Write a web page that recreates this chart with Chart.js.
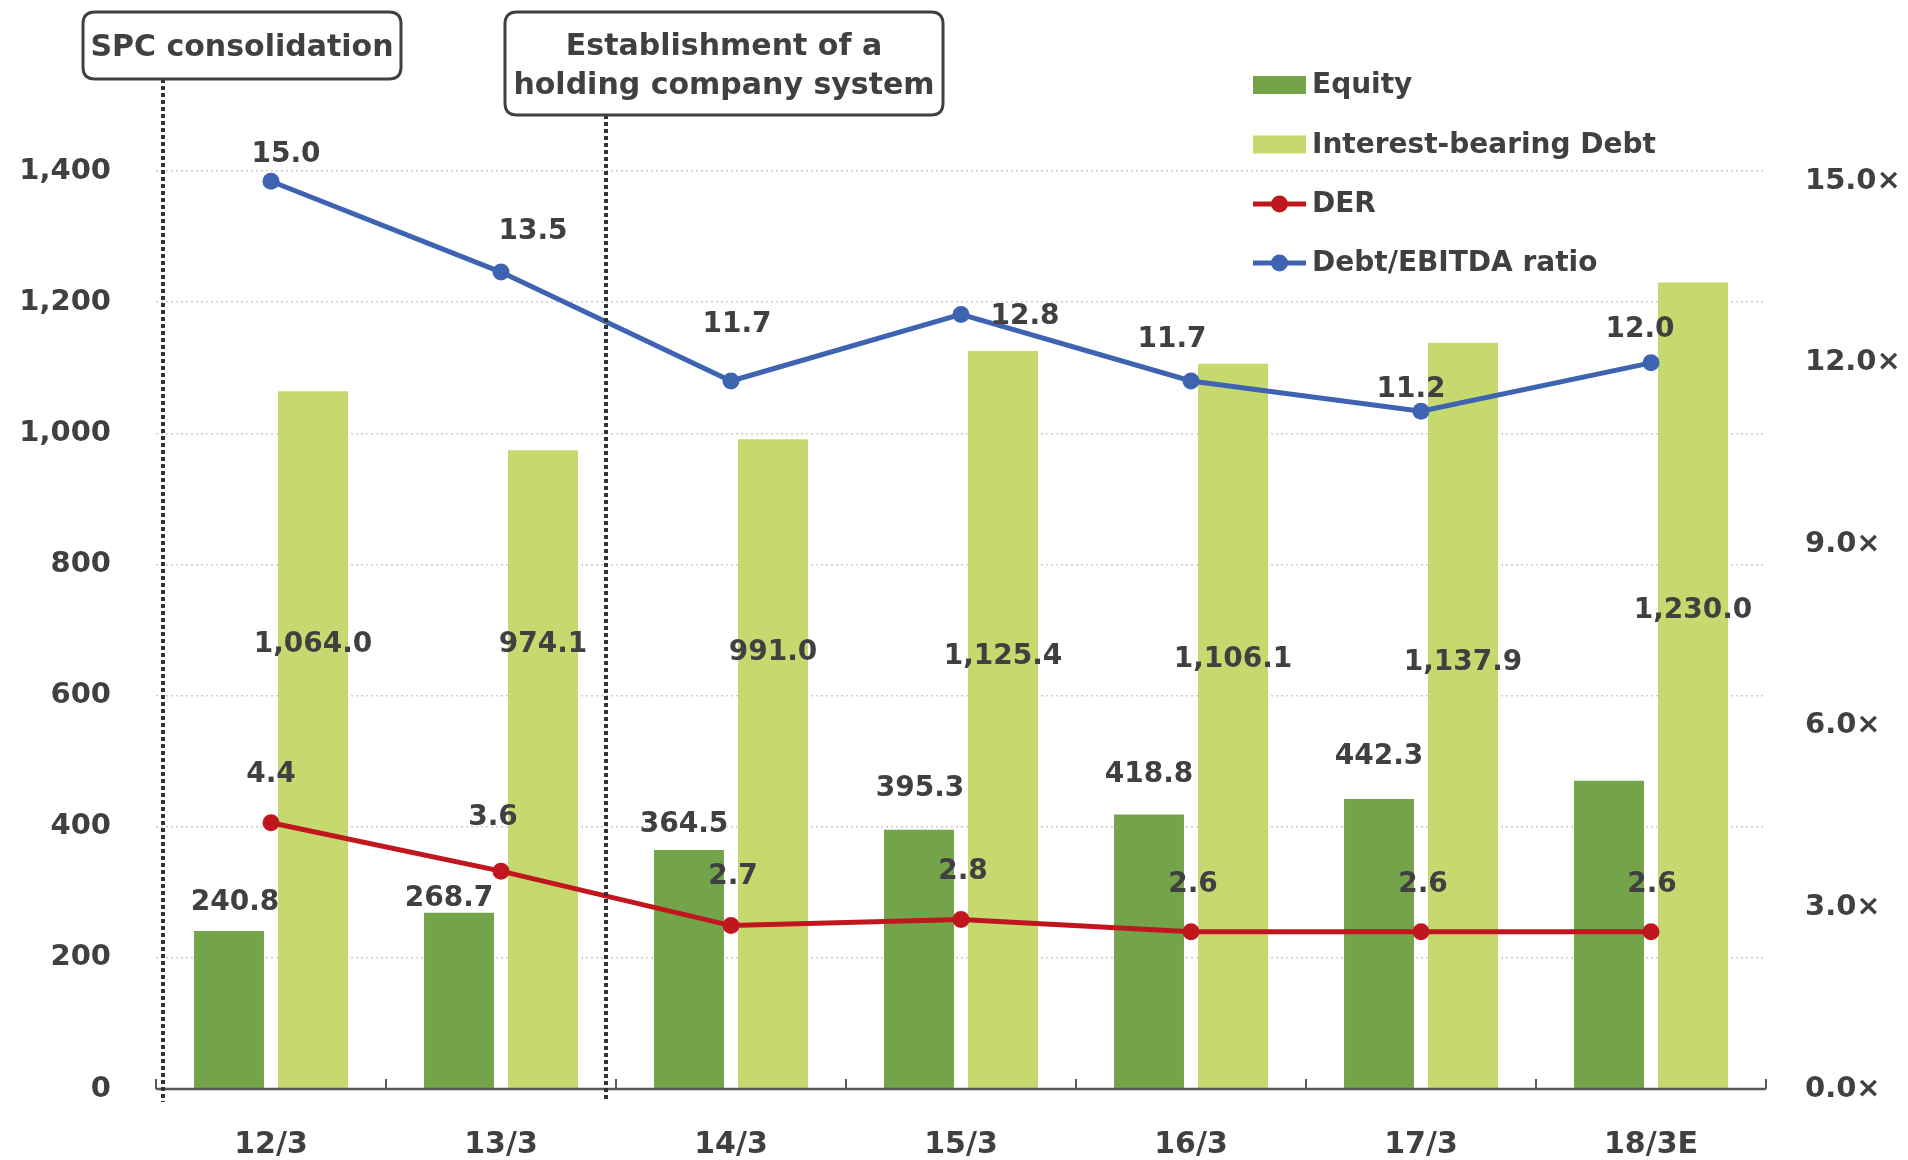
<!DOCTYPE html>
<html><head><meta charset="utf-8">
<script src="https://cdn.jsdelivr.net/npm/chart.js@4.4.1/dist/chart.umd.min.js"></script>
<style>html,body{margin:0;padding:0;background:#fff;} #c{display:block;}</style>
</head><body>
<canvas id="c" width="1908" height="1160"></canvas>
<script>
// ---- data ----
const categories = ['12/3', '13/3', '14/3', '15/3', '16/3', '17/3', '18/3E'];
const equity = [240.8, 268.7, 364.5, 395.3, 418.8, 442.3, 470.0];
const debt = [1064.0, 974.1, 991.0, 1125.4, 1106.1, 1137.9, 1230.0];
const der = [4.4, 3.6, 2.7, 2.8, 2.6, 2.6, 2.6];
const debtEbitda = [15.0, 13.5, 11.7, 12.8, 11.7, 11.2, 12.0];
const leftTicks = [0, 200, 400, 600, 800, 1000, 1200, 1400];
const rightTicks = [0, 3, 6, 9, 12, 15];
const equityShowLabel = [true, true, true, true, true, true, false];
const seriesNames = ['Equity', 'Interest-bearing Debt', 'DER', 'Debt/EBITDA ratio'];
const notes = [['SPC consolidation'], ['Establishment of a', 'holding company system']];

// ---- layout / style (not data) ----
const FONT = '"DejaVu Sans", Verdana, sans-serif';
const TXT = '#404040';
const C_EQ = '#74A44A', C_DEBT = '#C5D96F', C_DER = '#C0171F', C_EB = '#3E63B0';
const LAYOUT = {
  equityLabelOffset: [[6,-28],[-10,-14],[-5,-25],[1,-41],[0,-40],[0,-42],null],
  debtLabelLift: [444,444,436,432,429,426,478],
  derLabelOffset: [[0,-48],[-8,-53],[2,-49],[2,-48],[2,-47],[2,-47],[1,-47]],
  ebitdaLabelOffset: [[15,-27],[32,-40],[6,-56],[64,2],[-19,-41],[-10,-22],[-11,-33]]
};

function fmt1(v){ return v.toLocaleString('en-US',{minimumFractionDigits:1, maximumFractionDigits:1}); }

const labelsPlugin = {
  id: 'valueLabels',
  afterDatasetsDraw(chart) {
    const ctx = chart.ctx;
    ctx.save();
    ctx.font = 'bold 28px ' + FONT;
    ctx.fillStyle = TXT;
    ctx.textAlign = 'center';
    ctx.textBaseline = 'middle';
    const base = chart.chartArea.bottom;
    chart.getDatasetMeta(0).data.forEach((el, i) => {
      const o = LAYOUT.equityLabelOffset[i];
      if (!equityShowLabel[i] || !o) return;
      ctx.fillText(fmt1(equity[i]), el.x + o[0], el.y + o[1]);
    });
    chart.getDatasetMeta(1).data.forEach((el, i) => {
      ctx.fillText(fmt1(debt[i]), el.x, base - LAYOUT.debtLabelLift[i]);
    });
    chart.getDatasetMeta(2).data.forEach((el, i) => {
      const o = LAYOUT.derLabelOffset[i];
      ctx.fillText(der[i].toFixed(1), el.x + o[0], el.y + o[1]);
    });
    chart.getDatasetMeta(3).data.forEach((el, i) => {
      const o = LAYOUT.ebitdaLabelOffset[i];
      ctx.fillText(debtEbitda[i].toFixed(1), el.x + o[0], el.y + o[1]);
    });
    ctx.restore();
  }
};

const axisPlugin = {
  id: 'axisLine',
  afterDatasetsDraw(chart) {
    const {ctx, chartArea} = chart;
    const n = categories.length;
    const w = (chartArea.right - chartArea.left) / n;
    const y = chartArea.bottom;
    ctx.save();
    ctx.strokeStyle = '#595959';
    ctx.lineWidth = 2.5;
    ctx.beginPath();
    ctx.moveTo(chartArea.left, y);
    ctx.lineTo(chartArea.right, y);
    ctx.stroke();
    ctx.lineWidth = 2;
    for (let k = 0; k <= n; k++) {
      const x = Math.round(chartArea.left + k * w);
      ctx.beginPath();
      ctx.moveTo(x, y);
      ctx.lineTo(x, y - 10);
      ctx.stroke();
    }
    ctx.restore();
  }
};

function roundRect(ctx, x, y, w, h, r) {
  ctx.beginPath();
  ctx.moveTo(x + r, y);
  ctx.lineTo(x + w - r, y);
  ctx.quadraticCurveTo(x + w, y, x + w, y + r);
  ctx.lineTo(x + w, y + h - r);
  ctx.quadraticCurveTo(x + w, y + h, x + w - r, y + h);
  ctx.lineTo(x + r, y + h);
  ctx.quadraticCurveTo(x, y + h, x, y + h - r);
  ctx.lineTo(x, y + r);
  ctx.quadraticCurveTo(x, y, x + r, y);
  ctx.closePath();
}

const notesPlugin = {
  id: 'notes',
  afterDraw(chart) {
    const {ctx, chartArea} = chart;
    const w = (chartArea.right - chartArea.left) / categories.length;
    const boxes = [
      {x: 83, y: 12, w: 318, h: 67, lineX: Math.round(chartArea.left + 7)},
      {x: 505, y: 12, w: 438, h: 103, lineX: Math.round(chartArea.left + 2 * w - 10)}
    ];
    ctx.save();
    ctx.strokeStyle = '#333333';
    ctx.lineWidth = 4;
    ctx.setLineDash([4, 3]);
    boxes.forEach(b => {
      ctx.beginPath();
      ctx.moveTo(b.lineX, b.y + b.h);
      ctx.lineTo(b.lineX, chartArea.bottom + 13);
      ctx.stroke();
    });
    ctx.setLineDash([]);
    boxes.forEach((b, i) => {
      roundRect(ctx, b.x, b.y, b.w, b.h, 12);
      ctx.fillStyle = '#fff';
      ctx.fill();
      ctx.lineWidth = 3;
      ctx.strokeStyle = '#404040';
      ctx.stroke();
      ctx.fillStyle = TXT;
      ctx.font = 'bold 30px ' + FONT;
      ctx.textAlign = 'center';
      ctx.textBaseline = 'middle';
      const lines = notes[i];
      const lh = 39;
      const cy = b.y + b.h / 2 + 3;
      lines.forEach((t, j) => {
        ctx.fillText(t, b.x + b.w / 2, cy + (j - (lines.length - 1) / 2) * lh);
      });
    });
    ctx.restore();
  }
};

const legendPlugin = {
  id: 'customLegend',
  afterDraw(chart) {
    const ctx = chart.ctx;
    const x0 = 1253, x1 = 1306, tx = 1312;
    const rows = [85, 144.5, 204, 263];
    ctx.save();
    ctx.font = 'bold 28px ' + FONT;
    ctx.textAlign = 'left';
    ctx.textBaseline = 'middle';
    [C_EQ, C_DEBT].forEach((c, i) => {
      ctx.fillStyle = c;
      ctx.fillRect(x0, rows[i] - 9, x1 - x0, 18);
    });
    [C_DER, C_EB].forEach((c, i) => {
      const y = rows[i + 2];
      ctx.strokeStyle = c;
      ctx.lineWidth = 5;
      ctx.beginPath();
      ctx.moveTo(x0, y); ctx.lineTo(x1, y);
      ctx.stroke();
      ctx.fillStyle = c;
      ctx.beginPath();
      ctx.arc((x0 + x1) / 2, y, 8.5, 0, Math.PI * 2);
      ctx.fill();
    });
    ctx.fillStyle = TXT;
    seriesNames.forEach((s, i) => ctx.fillText(s, tx, rows[i] + 1));
    ctx.restore();
  }
};

const tickFont = {family: FONT, size: 29, weight: 'bold'};

new Chart(document.getElementById('c'), {
  type: 'bar',
  data: {
    labels: categories,
    datasets: [
      {label: seriesNames[0], data: equity, backgroundColor: C_EQ, yAxisID: 'y', order: 2,
       categoryPercentage: 0.7304, barPercentage: 0.833},
      {label: seriesNames[1], data: debt, backgroundColor: C_DEBT, yAxisID: 'y', order: 2,
       categoryPercentage: 0.7304, barPercentage: 0.833},
      {type: 'line', label: seriesNames[2], data: der, yAxisID: 'y2', order: 1,
       borderColor: C_DER, backgroundColor: C_DER, borderWidth: 5, pointRadius: 8.5,
       pointBorderWidth: 0, pointBackgroundColor: C_DER, tension: 0, fill: false},
      {type: 'line', label: seriesNames[3], data: debtEbitda, yAxisID: 'y2', order: 0,
       borderColor: C_EB, backgroundColor: C_EB, borderWidth: 5, pointRadius: 8.5,
       pointBorderWidth: 0, pointBackgroundColor: C_EB, tension: 0, fill: false}
    ]
  },
  options: {
    responsive: false,
    animation: false,
    devicePixelRatio: 1,
    layout: {padding: {top: 171, left: 0, right: 0, bottom: 0}},
    plugins: {legend: {display: false}, tooltip: {enabled: false}},
    scales: {
      x: {
        type: 'category',
        offset: true,
        grid: {display: false, drawTicks: false},
        border: {display: false},
        ticks: {font: {family: FONT, size: 30, weight: 'bold'}, color: TXT, padding: 38, maxRotation: 0, autoSkip: false},
        afterFit(s) { s.height = 71; }
      },
      y: {
        position: 'left',
        min: 0, max: 1400,
        afterBuildTicks(s) { s.ticks = leftTicks.map(v => ({value: v})); },
        grid: {color: '#cccccc', lineWidth: 1.5, drawTicks: false},
        border: {display: false, dash: [2, 3]},
        ticks: {font: tickFont, color: TXT, padding: 45,
                callback: v => v.toLocaleString('en-US')},
        afterFit(s) { s.width = 156; }
      },
      y2: {
        position: 'right',
        min: 0, max: 15.17,
        afterBuildTicks(s) { s.ticks = rightTicks.map(v => ({value: v})); },
        grid: {drawOnChartArea: false, drawTicks: false},
        border: {display: false},
        ticks: {font: tickFont, color: TXT, padding: 39,
                callback: v => v.toFixed(1) + '×'},
        afterFit(s) { s.width = 142; }
      }
    }
  },
  plugins: [axisPlugin, labelsPlugin, notesPlugin, legendPlugin]
});
</script>
</body></html>
